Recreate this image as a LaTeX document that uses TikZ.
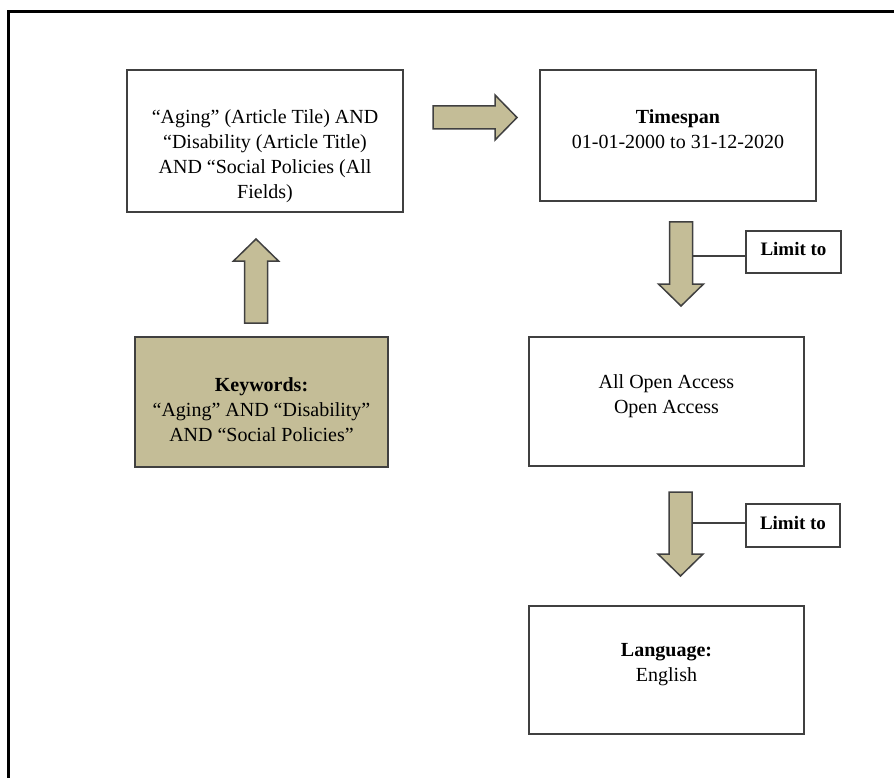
\documentclass[tikz,border=0pt]{standalone}
\usepackage{fontspec}
\setmainfont{Liberation Serif}
\definecolor{khakifill}{HTML}{C4BD97}
\definecolor{edgegray}{HTML}{404040}
\begin{document}
\begin{tikzpicture}[x=1pt,y=-1pt,
  box/.style={draw=edgegray, line width=1.5pt, rectangle, inner sep=0pt},
  txt/.style={align=center, inner sep=0pt, text=black,
    font=\fontsize{20}{25}\selectfont},
  limittxt/.style={inner sep=0pt, font=\fontsize{19}{23}\selectfont\bfseries},
  link/.style={draw=edgegray, line width=1.3pt},
  blockarrowstyle/.style={fill=khakifill, draw=edgegray, line width=1.5pt},
  pics/blockarrow/.style={code={
    \draw[blockarrowstyle] (0,-11.5) -- (62,-11.5) -- (62,-22.5) -- (84,0)
      -- (62,22.5) -- (62,11.5) -- (0,11.5) -- cycle;
  }}
]
\useasboundingbox (0,0) rectangle (894,778);
\clip (0,0) rectangle (894,778);

% outer frame (runs off the right and bottom edges)
\draw[line width=3pt, black] (8,800) -- (8,12) -- (910,12);

% boxes
\node[box, minimum width=276, minimum height=142] (search) at (265,141) {};
\node[txt] (searchtxt) at (265,156.5)
  {“Aging” (Article Tile) AND\\ “Disability (Article Title)\\ AND “Social Policies (All\\ Fields)};

\node[box, minimum width=276, minimum height=131] (timespan) at (678,135.5) {};
\node[txt] (timespantxt) at (678,129) {\textbf{Timespan}\\ 01-01-2000 to 31-12-2020};

\node[box, fill=khakifill, minimum width=253, minimum height=130] (keywords) at (261.5,402) {};
\node[txt] (keywordstxt) at (261.5,409.5)
  {\textbf{Keywords:}\\ “Aging” AND “Disability”\\ AND “Social Policies”};

\node[box, minimum width=275, minimum height=129] (access) at (666.5,401.5) {};
\node[txt] (accesstxt) at (666.5,396) {All Open Access\\ Open Access};

\node[box, minimum width=275, minimum height=128] (language) at (666.5,670) {};
\node[txt] (languagetxt) at (666.5,665) {\textbf{Language:}\\ English};

\node[box, minimum width=95, minimum height=42] (limitA) at (793.5,252) {};
\node[limittxt] (limitAtxt) at (793.5,249.5) {Limit to};

\node[box, minimum width=94, minimum height=43] (limitB) at (793,525.5) {};
\node[limittxt] (limitBtxt) at (793,522.5) {Limit to};

% block arrows
\pic at (433,117.5) {blockarrow};
\pic[rotate=90] at (256,323) {blockarrow};
\pic[rotate=-90] at (681,222) {blockarrow};
\pic[rotate=-90] at (680.5,492) {blockarrow};

% leader lines from the limit notes to the arrow shafts
\coordinate (shaftA) at (692.5,256);
\coordinate (shaftB) at (692,523);
\draw[link] (limitA.west |- shaftA) -- (shaftA);
\draw[link] (limitB.west |- shaftB) -- (shaftB);
\end{tikzpicture}
\end{document}
